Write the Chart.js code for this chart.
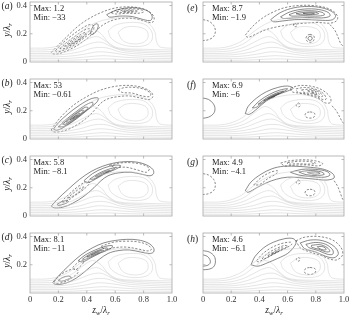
<!DOCTYPE html>
<html>
<head>
<meta charset="utf-8">
<script src="https://cdn.jsdelivr.net/npm/chart.js@4.4.1/dist/chart.umd.min.js"></script>
<style>
  body { margin: 0; background: #fff; }
  #fig { position: relative; width: 350px; height: 317px; overflow: hidden; }
  #fig canvas { position: absolute; left: 0; top: 0; }
  .t { position: absolute; font-family: "Liberation Serif", "DejaVu Serif", serif; color: #222; white-space: nowrap; line-height: 1; }
  .mm { font-size: 8.5px; }
  .pl { font-size: 9.5px; }
  .ttl { font-size: 9.5px; transform: translate(-50%, -50%); }
  .rot { transform: translate(-50%, -50%) rotate(-90deg); }
  sub { font-size: 70%; vertical-align: -2px; line-height: 0; }
</style>
</head>
<body>
<div id="fig"></div>
<script>
// axes
const xTicks = [0, 0.2, 0.4, 0.6, 0.8, 1.0];
const yTicks = [0, 0.2, 0.4];
const yMax = 0.425;

// panel texts
const panelNames = ['a', 'b', 'c', 'd', 'e', 'f', 'g', 'h'];
const maxLabels = ['1.2', '53', '5.8', '8.1', '8.7', '6.9', '4.9', '4.6'];
const minLabels = ['\u221233', '\u22120.61', '\u22128.1', '\u221211', '\u22121.9', '\u22126', '\u22124.1', '\u22126.1'];

// grey background streamlines, same in every panel
const streamLines = [
    [[0,0.012],[0.3,0.013],[0.45,0.02],[0.55,0.022],[0.7,0.016],[1,0.012]],
    [[0,0.024],[0.28,0.026],[0.42,0.038],[0.52,0.045],[0.65,0.035],[0.8,0.027],[1,0.024]],
    [[0,0.036],[0.25,0.039],[0.38,0.055],[0.48,0.072],[0.58,0.065],[0.72,0.045],[1,0.036]],
    [[0,0.048],[0.22,0.052],[0.35,0.072],[0.45,0.1],[0.54,0.1],[0.64,0.07],[0.8,0.055],[1,0.048]],
    [[0,0.06],[0.2,0.064],[0.32,0.09],[0.42,0.13],[0.5,0.14],[0.57,0.11],[0.66,0.08],[0.85,0.065],[1,0.06]],
    [[0,0.072],[0.18,0.077],[0.3,0.108],[0.4,0.16],[0.47,0.18],[0.53,0.15],[0.6,0.1],[0.75,0.082],[1,0.072]],
    [[0,0.085],[0.16,0.09],[0.28,0.125],[0.37,0.19],[0.44,0.23],[0.5,0.2],[0.55,0.14],[0.62,0.1],[0.8,0.09],[1,0.085]],
    [[0,0.098],[0.15,0.103],[0.26,0.14],[0.34,0.2],[0.41,0.25],[0.48,0.285],[0.56,0.305],[0.66,0.315],[0.76,0.305],[0.84,0.27],[0.88,0.21],[0.89,0.15],[0.91,0.11],[0.95,0.1],[1,0.098]],
    [[0.55,0.22],[0.6,0.26],[0.7,0.28],[0.8,0.27],[0.855,0.22],[0.86,0.16],[0.82,0.12],[0.72,0.11],[0.63,0.13],[0.57,0.17],[0.55,0.22]],
    [[0.62,0.21],[0.67,0.245],[0.75,0.25],[0.82,0.225],[0.83,0.17],[0.79,0.135],[0.71,0.13],[0.65,0.155],[0.62,0.21]]
];

// (a)
const aSolid = [
    [[0.425,0.2],[0.435,0.235],[0.455,0.265],[0.475,0.27],[0.48,0.25],[0.465,0.215],[0.44,0.195],[0.425,0.2]],
    [[0.54,0.335],[0.6,0.365],[0.68,0.383],[0.76,0.382],[0.83,0.36],[0.86,0.325],[0.85,0.295],[0.8,0.3],[0.72,0.322],[0.63,0.325],[0.56,0.318],[0.54,0.335]]
];
const aDashed = [
    [[0.15,0.068],[0.19,0.11],[0.26,0.18],[0.34,0.255],[0.42,0.31],[0.5,0.35],[0.58,0.378],[0.66,0.39],[0.74,0.388],[0.81,0.372],[0.86,0.34],[0.875,0.305],[0.86,0.28],[0.82,0.285],[0.75,0.305],[0.66,0.31],[0.58,0.295],[0.51,0.26],[0.46,0.215],[0.4,0.165],[0.33,0.115],[0.26,0.08],[0.2,0.058],[0.16,0.058],[0.15,0.068]],
    [[0.18,0.08],[0.22,0.125],[0.29,0.185],[0.36,0.235],[0.42,0.265],[0.45,0.255],[0.44,0.22],[0.38,0.17],[0.31,0.12],[0.24,0.085],[0.19,0.07],[0.18,0.08]],
    [[0.21,0.095],[0.26,0.14],[0.32,0.185],[0.38,0.225],[0.42,0.235],[0.41,0.21],[0.36,0.165],[0.3,0.125],[0.24,0.095],[0.21,0.095]],
    [[0.24,0.11],[0.29,0.15],[0.35,0.19],[0.39,0.21],[0.385,0.19],[0.34,0.155],[0.28,0.12],[0.24,0.11]],
    [[0.27,0.125],[0.32,0.16],[0.36,0.185],[0.355,0.17],[0.31,0.14],[0.27,0.125]],
    [[0.57,0.35],[0.62,0.37],[0.7,0.378],[0.78,0.37],[0.8,0.355],[0.76,0.345],[0.68,0.345],[0.6,0.34],[0.57,0.35]],
    [[0.61,0.355],[0.66,0.367],[0.73,0.368],[0.76,0.358],[0.71,0.352],[0.64,0.35],[0.61,0.355]],
    [[0.65,0.359],[0.7,0.364],[0.73,0.36],[0.69,0.356],[0.65,0.359]]
];

// (b)
const bSolid = [
    [[0.165,0.07],[0.2,0.115],[0.27,0.18],[0.35,0.24],[0.43,0.285],[0.48,0.29],[0.47,0.26],[0.41,0.21],[0.33,0.145],[0.25,0.09],[0.19,0.062],[0.165,0.07]],
    [[0.2,0.085],[0.25,0.135],[0.32,0.19],[0.39,0.24],[0.44,0.26],[0.44,0.24],[0.38,0.19],[0.31,0.135],[0.24,0.09],[0.2,0.085]],
    [[0.23,0.105],[0.28,0.15],[0.34,0.195],[0.39,0.225],[0.41,0.22],[0.36,0.18],[0.3,0.135],[0.25,0.105],[0.23,0.105]],
    [[0.255,0.12],[0.3,0.16],[0.35,0.195],[0.375,0.205],[0.37,0.19],[0.32,0.15],[0.27,0.12],[0.255,0.12]],
    [[0.28,0.135],[0.32,0.165],[0.35,0.183],[0.345,0.172],[0.31,0.148],[0.28,0.135]],
    [[0.3,0.148],[0.33,0.168],[0.335,0.163],[0.305,0.145],[0.3,0.148]]
];
const bDashed = [
    [[0.15,0.065],[0.18,0.11],[0.24,0.18],[0.32,0.25],[0.4,0.3],[0.48,0.34],[0.56,0.365],[0.64,0.378],[0.72,0.378],[0.8,0.362],[0.855,0.33],[0.865,0.3],[0.84,0.28],[0.78,0.29],[0.7,0.305],[0.62,0.3],[0.55,0.285],[0.5,0.255],[0.46,0.21],[0.4,0.15],[0.33,0.1],[0.26,0.065],[0.2,0.05],[0.16,0.052],[0.15,0.065]],
    [[0.62,0.35],[0.67,0.365],[0.74,0.365],[0.81,0.35],[0.85,0.32],[0.84,0.3],[0.79,0.305],[0.72,0.325],[0.65,0.33],[0.62,0.35]]
];

// (c)
const cSolid = [
    [[0.15,0.07],[0.19,0.115],[0.27,0.19],[0.35,0.26],[0.43,0.315],[0.51,0.352],[0.59,0.375],[0.67,0.385],[0.75,0.382],[0.82,0.362],[0.865,0.33],[0.87,0.3],[0.845,0.285],[0.79,0.295],[0.71,0.31],[0.62,0.305],[0.55,0.285],[0.5,0.25],[0.45,0.2],[0.38,0.14],[0.3,0.09],[0.23,0.062],[0.17,0.058],[0.15,0.07]],
    [[0.38,0.25],[0.44,0.3],[0.52,0.34],[0.6,0.36],[0.64,0.355],[0.6,0.33],[0.52,0.295],[0.45,0.255],[0.4,0.235],[0.38,0.25]],
    [[0.42,0.26],[0.48,0.3],[0.55,0.33],[0.6,0.342],[0.58,0.327],[0.51,0.295],[0.45,0.262],[0.42,0.26]],
    [[0.46,0.28],[0.52,0.31],[0.56,0.322],[0.54,0.31],[0.48,0.282],[0.46,0.28]],
    [[0.19,0.082],[0.22,0.1],[0.26,0.11],[0.27,0.1],[0.24,0.085],[0.2,0.075],[0.19,0.082]]
];
const cDashed = [
    [[0.22,0.1],[0.27,0.15],[0.34,0.21],[0.4,0.245],[0.42,0.235],[0.38,0.19],[0.31,0.14],[0.25,0.1],[0.22,0.1]],
    [[0.26,0.125],[0.31,0.165],[0.36,0.2],[0.38,0.205],[0.35,0.175],[0.3,0.14],[0.26,0.125]],
    [[0.56,0.36],[0.63,0.375],[0.72,0.377],[0.8,0.362],[0.84,0.335],[0.82,0.31],[0.76,0.325],[0.68,0.345],[0.6,0.345],[0.56,0.36]]
];

// (d)
const dSolid = [
    [[0.16,0.075],[0.2,0.12],[0.28,0.2],[0.36,0.27],[0.44,0.32],[0.52,0.355],[0.6,0.372],[0.68,0.38],[0.76,0.376],[0.83,0.355],[0.87,0.32],[0.87,0.29],[0.84,0.28],[0.78,0.29],[0.7,0.305],[0.62,0.3],[0.55,0.28],[0.49,0.24],[0.43,0.19],[0.36,0.13],[0.29,0.085],[0.22,0.062],[0.175,0.062],[0.16,0.075]],
    [[0.34,0.23],[0.39,0.27],[0.46,0.305],[0.53,0.33],[0.58,0.335],[0.57,0.315],[0.5,0.285],[0.43,0.25],[0.37,0.22],[0.34,0.23]],
    [[0.37,0.24],[0.42,0.275],[0.48,0.302],[0.54,0.32],[0.55,0.31],[0.49,0.285],[0.42,0.252],[0.38,0.235],[0.37,0.24]],
    [[0.4,0.255],[0.45,0.283],[0.5,0.302],[0.52,0.3],[0.47,0.28],[0.42,0.258],[0.4,0.255]],
    [[0.43,0.268],[0.47,0.287],[0.49,0.29],[0.46,0.275],[0.43,0.268]],
    [[0.2,0.09],[0.23,0.11],[0.27,0.12],[0.29,0.11],[0.26,0.095],[0.22,0.083],[0.2,0.09]]
];
const dDashed = [
    [[0.5,0.33],[0.58,0.358],[0.67,0.367],[0.76,0.362],[0.83,0.34],[0.855,0.31],[0.83,0.298],[0.77,0.31],[0.68,0.325],[0.6,0.322],[0.53,0.31],[0.5,0.33]],
    [[0.17,0.08],[0.21,0.125],[0.27,0.16],[0.32,0.17],[0.34,0.15],[0.3,0.11],[0.24,0.078],[0.19,0.068],[0.17,0.08]],
    [[0.3,0.18],[0.35,0.225],[0.38,0.225],[0.36,0.195],[0.32,0.165],[0.3,0.18]]
];

// (e)
const eSolid = [
    [[0.48,0.3],[0.54,0.345],[0.62,0.378],[0.72,0.393],[0.82,0.388],[0.9,0.365],[0.94,0.33],[0.92,0.3],[0.85,0.295],[0.75,0.3],[0.65,0.3],[0.56,0.29],[0.5,0.285],[0.48,0.3]],
    [[0.55,0.32],[0.62,0.356],[0.72,0.375],[0.82,0.372],[0.89,0.35],[0.9,0.325],[0.84,0.312],[0.74,0.315],[0.64,0.312],[0.57,0.308],[0.55,0.32]],
    [[0.61,0.335],[0.68,0.358],[0.77,0.363],[0.85,0.35],[0.86,0.333],[0.8,0.325],[0.71,0.327],[0.63,0.325],[0.61,0.335]],
    [[0.66,0.342],[0.73,0.353],[0.8,0.352],[0.82,0.342],[0.76,0.335],[0.69,0.335],[0.66,0.342]],
    [[0.71,0.344],[0.76,0.348],[0.79,0.344],[0.75,0.339],[0.71,0.344]],
    [[0.759,0.183],[0.772,0.176],[0.774,0.163],[0.762,0.153],[0.748,0.158],[0.745,0.172],[0.759,0.183]]
];
const eDashed = [
    [[0,0.3],[0.04,0.29],[0.075,0.26],[0.088,0.22],[0.075,0.18],[0.04,0.158],[0,0.152]],
    [[0.3,0.19],[0.35,0.25],[0.42,0.31],[0.5,0.355],[0.58,0.385],[0.68,0.4],[0.78,0.4],[0.87,0.385],[0.93,0.355],[0.955,0.32],[0.945,0.29],[0.9,0.275],[0.82,0.28],[0.72,0.275],[0.62,0.265],[0.53,0.25],[0.45,0.23],[0.38,0.2],[0.32,0.175],[0.3,0.19]],
    [[0.9,0.265],[0.935,0.225],[0.96,0.17],[0.98,0.125],[1,0.11]],
    [[0.652,0.274],[0.664,0.268],[0.666,0.256],[0.654,0.25],[0.642,0.256],[0.641,0.268],[0.652,0.274]],
    [[0.759,0.196],[0.785,0.185],[0.789,0.165],[0.778,0.145],[0.755,0.14],[0.735,0.152],[0.731,0.172],[0.742,0.19],[0.759,0.196]]
];

// (f)
const fSolid = [
    [[0,0.29],[0.04,0.28],[0.073,0.25],[0.085,0.215],[0.075,0.18],[0.04,0.155],[0,0.147]],
    [[0.3,0.18],[0.32,0.23],[0.38,0.29],[0.45,0.335],[0.53,0.365],[0.6,0.375],[0.64,0.36],[0.6,0.34],[0.52,0.31],[0.45,0.27],[0.39,0.22],[0.33,0.175],[0.3,0.18]],
    [[0.35,0.22],[0.4,0.27],[0.47,0.315],[0.54,0.345],[0.6,0.356],[0.58,0.34],[0.51,0.31],[0.44,0.27],[0.38,0.225],[0.35,0.22]],
    [[0.39,0.245],[0.45,0.29],[0.52,0.325],[0.57,0.34],[0.55,0.325],[0.49,0.297],[0.43,0.26],[0.39,0.245]],
    [[0.43,0.27],[0.49,0.305],[0.54,0.325],[0.52,0.31],[0.46,0.28],[0.43,0.27]],
    [[0.46,0.287],[0.5,0.305],[0.51,0.302],[0.475,0.285],[0.46,0.287]]
];
const fDashed = [
    [[0.62,0.36],[0.68,0.378],[0.76,0.375],[0.84,0.35],[0.9,0.3],[0.905,0.26],[0.87,0.255],[0.82,0.285],[0.75,0.31],[0.68,0.325],[0.63,0.335],[0.62,0.36]],
    [[0.66,0.355],[0.72,0.365],[0.79,0.355],[0.85,0.325],[0.875,0.285],[0.85,0.28],[0.8,0.302],[0.73,0.32],[0.67,0.333],[0.66,0.355]],
    [[0.7,0.348],[0.76,0.352],[0.82,0.335],[0.85,0.305],[0.83,0.3],[0.78,0.318],[0.71,0.333],[0.7,0.348]],
    [[0.74,0.342],[0.79,0.34],[0.825,0.318],[0.81,0.314],[0.77,0.328],[0.74,0.342]],
    [[0.77,0.335],[0.8,0.328],[0.805,0.322],[0.78,0.328],[0.77,0.335]],
    [[0.676,0.255],[0.688,0.248],[0.69,0.236],[0.678,0.227],[0.664,0.232],[0.662,0.246],[0.676,0.255]],
    [[0.759,0.192],[0.788,0.185],[0.794,0.168],[0.782,0.152],[0.756,0.148],[0.73,0.156],[0.724,0.172],[0.735,0.187],[0.759,0.192]],
    [[0.915,0.235],[0.945,0.2],[0.97,0.155],[0.99,0.118],[1,0.11]]
];

// (g)
const gSolid = [
    [[0.3,0.18],[0.34,0.24],[0.41,0.295],[0.49,0.335],[0.57,0.352],[0.66,0.352],[0.76,0.345],[0.86,0.33],[0.92,0.3],[0.93,0.27],[0.88,0.255],[0.8,0.26],[0.7,0.27],[0.6,0.275],[0.52,0.26],[0.45,0.235],[0.38,0.2],[0.32,0.168],[0.3,0.18]],
    [[0.62,0.31],[0.7,0.33],[0.8,0.33],[0.88,0.315],[0.9,0.29],[0.86,0.275],[0.78,0.278],[0.68,0.29],[0.62,0.31]],
    [[0.68,0.312],[0.76,0.322],[0.84,0.312],[0.86,0.295],[0.81,0.287],[0.73,0.293],[0.68,0.312]],
    [[0.74,0.308],[0.8,0.312],[0.83,0.302],[0.79,0.296],[0.74,0.308]]
];
const gDashed = [
    [[0,0.3],[0.04,0.29],[0.075,0.26],[0.088,0.22],[0.075,0.18],[0.04,0.158],[0,0.152]],
    [[0.55,0.375],[0.62,0.392],[0.72,0.398],[0.8,0.39],[0.85,0.37],[0.82,0.355],[0.74,0.362],[0.65,0.36],[0.58,0.355],[0.55,0.375]],
    [[0.6,0.378],[0.68,0.388],[0.76,0.385],[0.8,0.373],[0.75,0.368],[0.67,0.37],[0.6,0.368],[0.6,0.378]],
    [[0.36,0.22],[0.41,0.27],[0.48,0.31],[0.53,0.32],[0.52,0.3],[0.46,0.265],[0.4,0.222],[0.36,0.22]],
    [[0.676,0.255],[0.688,0.248],[0.69,0.236],[0.678,0.227],[0.664,0.232],[0.662,0.246],[0.676,0.255]],
    [[0.759,0.19],[0.788,0.182],[0.794,0.165],[0.782,0.148],[0.756,0.143],[0.73,0.151],[0.724,0.168],[0.735,0.184],[0.759,0.19]],
    [[0.93,0.25],[0.955,0.21],[0.975,0.16],[0.99,0.12],[1,0.11]]
];

// (h)
const hSolid = [
    [[0,0.3],[0.045,0.29],[0.08,0.26],[0.088,0.22],[0.075,0.185],[0.04,0.168],[0,0.165]],
    [[0,0.27],[0.03,0.26],[0.05,0.235],[0.05,0.21],[0.03,0.195],[0,0.19]],
    [[0.34,0.2],[0.37,0.26],[0.43,0.32],[0.5,0.36],[0.58,0.385],[0.64,0.385],[0.66,0.36],[0.64,0.32],[0.6,0.28],[0.53,0.245],[0.46,0.215],[0.39,0.19],[0.34,0.2]],
    [[0.69,0.355],[0.76,0.375],[0.85,0.37],[0.93,0.33],[0.96,0.28],[0.93,0.25],[0.87,0.26],[0.8,0.29],[0.72,0.315],[0.69,0.355]],
    [[0.73,0.345],[0.8,0.358],[0.87,0.345],[0.92,0.305],[0.92,0.275],[0.88,0.275],[0.82,0.3],[0.75,0.322],[0.73,0.345]],
    [[0.77,0.338],[0.83,0.342],[0.88,0.322],[0.9,0.295],[0.87,0.292],[0.82,0.31],[0.77,0.325],[0.77,0.338]],
    [[0.81,0.328],[0.85,0.328],[0.875,0.31],[0.855,0.305],[0.82,0.318],[0.81,0.328]]
];
const hDashed = [
    [[0.38,0.23],[0.42,0.275],[0.48,0.318],[0.55,0.348],[0.62,0.36],[0.63,0.345],[0.58,0.315],[0.51,0.28],[0.44,0.243],[0.39,0.22],[0.38,0.23]],
    [[0.42,0.245],[0.46,0.282],[0.52,0.315],[0.58,0.337],[0.6,0.33],[0.55,0.303],[0.48,0.265],[0.43,0.24],[0.42,0.245]],
    [[0.46,0.265],[0.51,0.297],[0.56,0.32],[0.57,0.314],[0.52,0.288],[0.47,0.263],[0.46,0.265]],
    [[0.49,0.28],[0.53,0.3],[0.545,0.303],[0.51,0.285],[0.49,0.28]],
    [[0.66,0.37],[0.72,0.395],[0.82,0.4],[0.92,0.375],[0.98,0.32],[0.99,0.27],[0.95,0.235],[0.9,0.24],[0.84,0.265],[0.76,0.29],[0.69,0.32],[0.66,0.37]],
    [[0.676,0.252],[0.687,0.246],[0.689,0.235],[0.678,0.226],[0.665,0.231],[0.663,0.244],[0.676,0.252]],
    [[0.759,0.181],[0.792,0.174],[0.8,0.156],[0.787,0.138],[0.756,0.131],[0.726,0.14],[0.719,0.158],[0.731,0.175],[0.759,0.181]]
];

const solids = [aSolid, bSolid, cSolid, dSolid, eSolid, fSolid, gSolid, hSolid];
const dashes = [aDashed, bDashed, cDashed, dDashed, eDashed, fDashed, gDashed, hDashed];

const W = 350, H = 317;
const colLeft = [30, 203];
const colRight = [172, 344];
const rowTop = [2, 79, 156, 233];
const boxH = 60;
const serif = '"Liberation Serif", "DejaVu Serif", serif';

function lineSet(pts, dashed, grey) {
    return {
        data: pts.map(p => ({ x: p[0], y: p[1] })),
        borderColor: grey ? '#d0d0d0' : '#4a4a4a',
        borderWidth: grey ? 0.55 : 0.65,
        borderDash: dashed ? [2.2, 1.6] : [],
        pointRadius: 0,
        tension: 0.35,
        fill: false
    };
}

const framePlugin = {
    id: 'frame',
    afterDatasetsDraw(chart) {
        const { ctx, chartArea: a, scales } = chart;
        ctx.save();
        ctx.strokeStyle = '#a8a8a8';
        ctx.lineWidth = 0.8;
        ctx.strokeRect(a.left, a.top, a.width, a.height);
        ctx.beginPath();
        xTicks.slice(1, -1).forEach(v => {
            const px = scales.x.getPixelForValue(v);
            ctx.moveTo(px, a.bottom); ctx.lineTo(px, a.bottom - 2.5);
            ctx.moveTo(px, a.top); ctx.lineTo(px, a.top + 2.5);
        });
        yTicks.slice(1).forEach(v => {
            const py = scales.y.getPixelForValue(v);
            ctx.moveTo(a.left, py); ctx.lineTo(a.left + 2.5, py);
            ctx.moveTo(a.right, py); ctx.lineTo(a.right - 2.5, py);
        });
        ctx.stroke();
        ctx.restore();
    }
};

const fig = document.getElementById('fig');

function addText(html, cls, left, top) {
    const d = document.createElement('div');
    d.className = 't ' + cls;
    d.innerHTML = html;
    d.style.left = left + 'px';
    d.style.top = top + 'px';
    fig.appendChild(d);
}

panelNames.forEach((name, i) => {
    const col = Math.floor(i / 4);
    const row = i % 4;
    const bottomRow = row === 3;
    const left = colLeft[col], right = colRight[col];
    const top = rowTop[row], bottom = top + boxH;
    const xh = bottomRow ? 14 : 0;

    const canvas = document.createElement('canvas');
    canvas.width = W;
    canvas.height = H;
    fig.appendChild(canvas);

    const datasets = [];
    streamLines.forEach(p => datasets.push(lineSet(p, false, true)));
    solids[i].forEach(p => datasets.push(lineSet(p, false, false)));
    dashes[i].forEach(p => datasets.push(lineSet(p, true, false)));

    new Chart(canvas.getContext('2d'), {
        type: 'line',
        data: { datasets },
        options: {
            responsive: false,
            animation: false,
            events: [],
            layout: { padding: { left: left - 30, right: W - right, top: top, bottom: H - bottom - xh } },
            plugins: { legend: { display: false }, tooltip: { enabled: false } },
            scales: {
                x: {
                    type: 'linear', min: 0, max: 1,
                    afterBuildTicks: s => { s.ticks = xTicks.map(v => ({ value: v })); },
                    afterFit: s => { s.height = xh; s.paddingLeft = 0; s.paddingRight = 0; },
                    grid: { display: false, drawTicks: false },
                    border: { display: false },
                    ticks: {
                        display: bottomRow, padding: 2, color: '#333',
                        font: { family: serif, size: 8.5 },
                        callback: v => v === 0 ? '0' : v.toFixed(1)
                    }
                },
                y: {
                    type: 'linear', min: 0, max: yMax,
                    afterBuildTicks: s => { s.ticks = yTicks.map(v => ({ value: v })); },
                    afterFit: s => { s.width = 30; s.paddingTop = 0; s.paddingBottom = 0; },
                    grid: { display: false, drawTicks: false },
                    border: { display: false },
                    ticks: {
                        display: col === 0, padding: 3, color: '#333',
                        font: { family: serif, size: 8.5 },
                        callback: v => v === 0 ? (bottomRow ? '' : '0') : v.toFixed(1)
                    }
                }
            }
        },
        plugins: [framePlugin]
    });

    // annotations
    const tx = col === 0 ? left + 3.5 : left + 9;
    addText('Max: ' + maxLabels[i], 'mm', tx, top + 1.5);
    addText('Min: ' + minLabels[i], 'mm', tx, top + 10.5);
    addText('(<i>' + name + '</i>)', 'pl', col === 0 ? 1.5 : 187, col === 0 ? top - 0.5 : top + 1.5);
    if (col === 0) {
        addText('<i>y</i>/<i>\u03bb<sub>r</sub></i>', 'rot pl', 7.5, top + 28);
    }
});

addText('<i>z<sub>w</sub></i>/<i>\u03bb<sub>r</sub></i>', 'ttl', 101, 311);
addText('<i>z<sub>w</sub></i>/<i>\u03bb<sub>r</sub></i>', 'ttl', 274, 311);
</script>
</body>
</html>
